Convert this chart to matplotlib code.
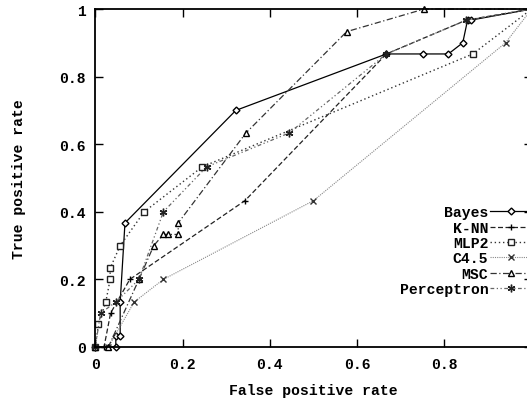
import matplotlib
matplotlib.use("Agg")
import matplotlib.pyplot as plt

# ---- data ----
bayes_x = [0, 0.047, 0.047, 0.057, 0.057, 0.068, 0.322, 0.667, 0.752, 0.809, 0.842, 0.853, 0.860, 1.0]
bayes_y = [0, 0, 0.033, 0.033, 0.133, 0.367, 0.7, 0.867, 0.867, 0.867, 0.9, 0.967, 0.967, 1.0]

knn_x = [0, 0.02, 0.035, 0.079, 0.343, 0.667, 0.85, 1.0]
knn_y = [0, 0, 0.1, 0.2, 0.433, 0.867, 0.967, 1.0]

mlp_x = [0, 0.007, 0.024, 0.034, 0.034, 0.057, 0.112, 0.245, 0.865, 1.0]
mlp_y = [0, 0.067, 0.133, 0.2, 0.233, 0.3, 0.4, 0.533, 0.867, 1.0]

c45_x = [0, 0.03, 0.089, 0.156, 0.5, 0.94, 1.0]
c45_y = [0, 0, 0.133, 0.2, 0.433, 0.9, 1.0]

msc_x = [0, 0.03, 0.1, 0.134, 0.156, 0.167, 0.19, 0.19, 0.345, 0.576, 0.754, 1.0]
msc_y = [0, 0, 0.2, 0.3, 0.333, 0.333, 0.333, 0.367, 0.633, 0.933, 1.0, 1.0]

perc_x = [0, 0.012, 0.047, 0.1, 0.156, 0.255, 0.444, 0.667, 0.85, 1.0]
perc_y = [0, 0.1, 0.133, 0.2, 0.4, 0.533, 0.633, 0.867, 0.967, 1.0]

labels = ["Bayes", "K-NN", "MLP2", "C4.5", "MSC", "Perceptron"]
x_ticks = [0, 0.2, 0.4, 0.6, 0.8, 1]
x_tick_labels = ["0", "0.2", "0.4", "0.6", "0.8", "1"]
y_ticks = [0, 0.2, 0.4, 0.6, 0.8, 1]
y_tick_labels = ["0", "0.2", "0.4", "0.6", "0.8", "1"]

FONT = "Liberation Mono"
FS = 10.6
W, H = 527, 406
fig = plt.figure(figsize=(W / 100, H / 100), dpi=100)
ax = fig.add_axes([95.3 / W, 58 / H, 436.4 / W, 338 / H])

series = [
    (bayes_x, bayes_y, dict(color="black", ls="-", marker="D", ms=3.5, mfc="white", mec="black", lw=0.9)),
    (knn_x, knn_y, dict(color="#222222", ls=(0, (4, 2)), marker="+", ms=5, mec="black", lw=0.9)),
    (mlp_x, mlp_y, dict(color="#333333", ls=(0, (1, 2)), marker="s", ms=4.5, mfc="white", mec="#222222", lw=1.0)),
    (c45_x, c45_y, dict(color="#888888", ls=(0, (1, 1)), marker="x", ms=5, mec="#333333", lw=0.8)),
    (msc_x, msc_y, dict(color="#333333", ls=(0, (5, 2, 1, 2)), marker="^", ms=4.5, mfc="white", mec="black", lw=0.9)),
    (perc_x, perc_y, dict(color="#666666", ls=(0, (3, 2, 1, 2, 1, 2)), marker=(6, 2, 0), ms=5.5, mec="#222222", lw=0.9)),
]
for (xs, ys, st), lab in zip(series, labels):
    ax.plot(xs, ys, label=lab, clip_on=False, **st)

ax.set_xlim(0, 1)
ax.set_ylim(0, 1)
ax.set_xticks(x_ticks)
ax.set_xticklabels(x_tick_labels)
ax.set_yticks(y_ticks)
ax.set_yticklabels(y_tick_labels)
ax.tick_params(direction="in", top=True, right=True, length=6, width=1, labelsize=FS)
ax.tick_params(axis="x", pad=7)
ax.tick_params(axis="y", pad=7)
for lab in ax.get_xticklabels() + ax.get_yticklabels():
    lab.set_fontfamily(FONT)
    lab.set_fontweight("bold")
for s in ax.spines.values():
    s.set_linewidth(1.3)

ax.set_xlabel("False positive rate", fontfamily=FONT, fontweight="bold", fontsize=FS, labelpad=9)
ax.set_ylabel("True positive rate", fontfamily=FONT, fontweight="bold", fontsize=FS, labelpad=24)

leg = ax.legend(loc="upper right", bbox_to_anchor=(1.0, 0.419), frameon=False, markerfirst=False,
                prop={"family": FONT, "weight": "bold", "size": FS},
                handlelength=2.8, handletextpad=0.15, labelspacing=0.09, borderaxespad=0.0, borderpad=0.0)

fig.savefig("out.png", dpi=100)
